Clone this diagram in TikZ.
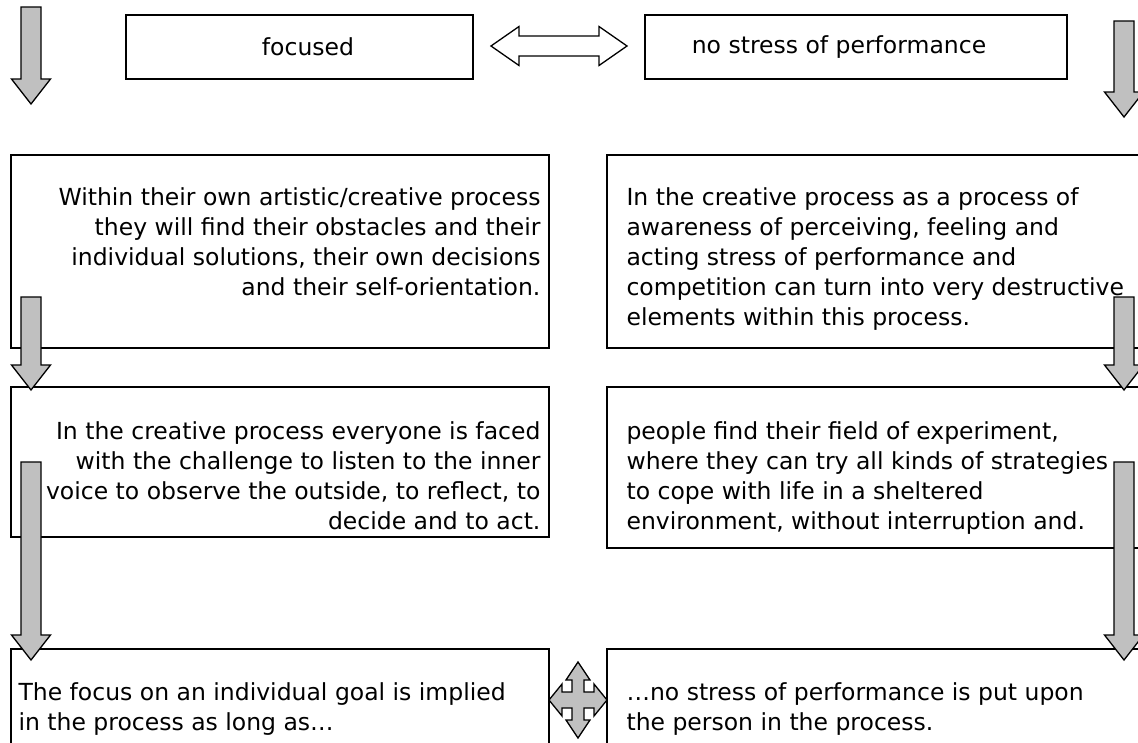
\documentclass[tikz,border=0pt]{standalone}
\usepackage{fontspec}
\setmainfont{DejaVu Sans}
\usetikzlibrary{positioning}
\definecolor{arrowgray}{RGB}{192,192,192}
% down block arrow: x centre, top of shaft, tip
\newcommand{\downblock}[3]{%
  \draw[blockarrow] (#1-10,#2) -- (#1+10,#2) -- (#1+10,#3-25) -- (#1+19.5,#3-25)
    -- (#1,#3) -- (#1-19.5,#3-25) -- (#1-10,#3-25) -- cycle;}

\begin{document}
\begin{tikzpicture}[x=1pt,y=-1pt]
    \tikzstyle{box}=[draw, line width=1.3pt, rectangle, inner sep=0pt]
    \tikzstyle{txt}=[inner sep=0pt, font=\fontsize{23.5}{30}\selectfont]
    \tikzstyle{lefttxt}=[txt, align=right]
    \tikzstyle{righttxt}=[txt, align=left]
    \tikzstyle{blockarrow}=[draw, line width=1.3pt, fill=arrowgray, line join=miter]

    \useasboundingbox (0,0) rectangle (1138,742);
    \clip (0,0) rectangle (1138,742);

    % top boxes
    \node[box, minimum width=347pt, minimum height=64pt] (focusbox) at (299.5,47) {};
    \node[txt] (focustxt) at (308,47) {focused};
    \node[box, minimum width=422pt, minimum height=64pt] (stressbox) at (856,47) {};
    \node[txt] (stresstxt) at (839,47) {no stress of performance};

    % first row
    \node[box, minimum width=538pt, minimum height=193pt] (leftone) at (280,251.5) {};
    \node[lefttxt, below left=33pt and 9pt of leftone.north east] (leftonetxt)
        {Within their own artistic/creative process\\
         they will find their obstacles and their\\
         individual solutions, their own decisions\\
         and their self-orientation.};
    \node[box, minimum width=543pt, minimum height=193pt] (rightone) at (878.5,251.5) {};
    \node[righttxt, below right=33pt and 20pt of rightone.north west] (rightonetxt)
        {In the creative process as a process of\\
         awareness of perceiving, feeling and\\
         acting stress of performance and\\
         competition can turn into very destructive\\
         elements within this process.};

    % second row
    \node[box, minimum width=538pt, minimum height=150pt] (lefttwo) at (280,462) {};
    \node[lefttxt, below left=35pt and 9pt of lefttwo.north east] (lefttwotxt)
        {In the creative process everyone is faced\\
         with the challenge to listen to the inner\\
         voice to observe the outside, to reflect, to\\
         decide and to act.};
    \node[box, minimum width=543pt, minimum height=161pt] (righttwo) at (878.5,467.5) {};
    \node[righttxt, below right=35pt and 20pt of righttwo.north west] (righttwotxt)
        {people find their field of experiment,\\
         where they can try all kinds of strategies\\
         to cope with life in a sheltered\\
         environment, without interruption and.};

    % third row
    \node[box, minimum width=538pt, minimum height=111pt] (leftthree) at (280,704.5) {};
    \node[righttxt, below right=34pt and 8pt of leftthree.north west] (leftthreetxt)
        {The focus on an individual goal is implied\\
         in the process as long as…};
    \node[box, minimum width=543pt, minimum height=111pt] (rightthree) at (878.5,704.5) {};
    \node[righttxt, below right=34pt and 20pt of rightthree.north west] (rightthreetxt)
        {…no stress of performance is put upon\\
         the person in the process.};

    % block arrows
    \downblock{31}{7}{104}
    \downblock{1124}{21}{117}
    \downblock{31}{297}{390}
    \downblock{1124}{297}{390}
    \downblock{31}{462}{660}
    \downblock{1124}{462}{660}

    % double arrow between top boxes
    \draw[line width=1.3pt, fill=white] (491,46) -- (519,26.5) -- (519,36) -- (599,36)
        -- (599,26.5) -- (627,46) -- (599,65.5) -- (599,56) -- (519,56)
        -- (519,65.5) -- cycle;

    % four way arrow
    \begin{scope}[shift={(578,700)}]
    \draw[blockarrow] (0,-38) -- (12,-20) -- (6,-20) -- (6,-8) -- (16,-8) -- (16,-16)
        -- (29,0) -- (16,16) -- (16,8) -- (6,8) -- (6,20) -- (12,20) -- (0,38)
        -- (-12,20) -- (-6,20) -- (-6,8) -- (-16,8) -- (-16,16) -- (-29,0)
        -- (-16,-16) -- (-16,-8) -- (-6,-8) -- (-6,-20) -- (-12,-20) -- cycle;
    \end{scope}
\end{tikzpicture}
\end{document}
